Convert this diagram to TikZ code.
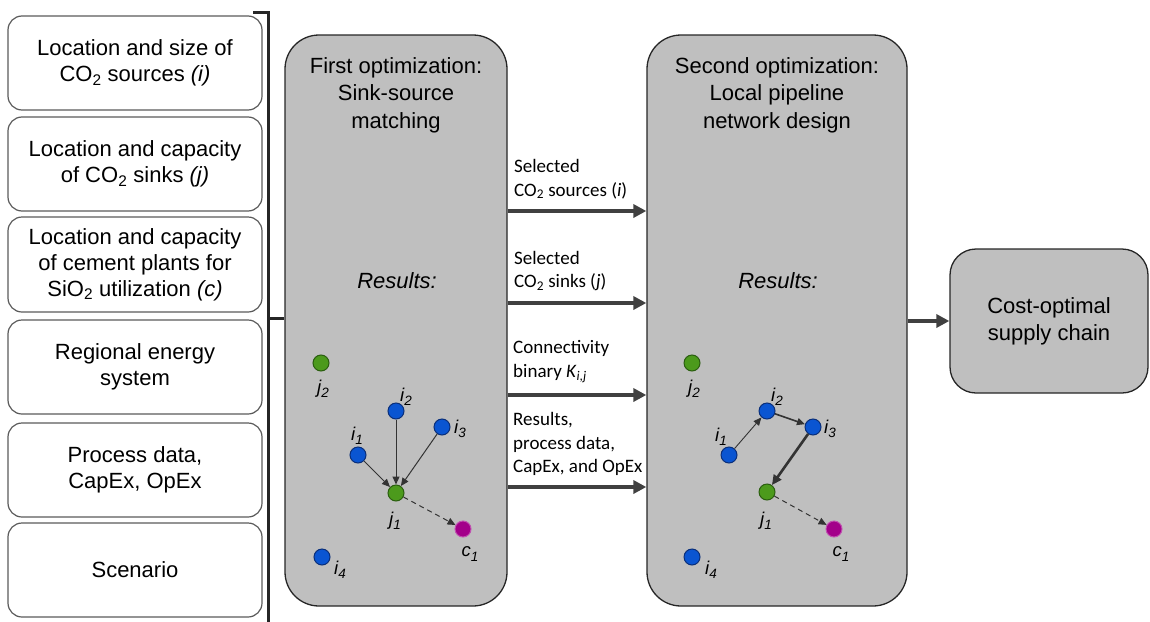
\documentclass[tikz,border=0pt]{standalone}
\usepackage{fontspec}
\setmainfont{Liberation Sans}
\newfontfamily\califont{Carlito}
\usetikzlibrary{arrows.meta}

\definecolor{panelgray}{HTML}{BFBFBF}
\definecolor{edgegray}{HTML}{262626}
\definecolor{linkgray}{HTML}{404040}
\definecolor{boxedge}{HTML}{5A5A5A}
\definecolor{srcblue}{HTML}{0A55D2}
\definecolor{srcblueedge}{HTML}{0A2F7A}
\definecolor{sinkgreen}{HTML}{4C9A1C}
\definecolor{sinkgreenedge}{HTML}{2B5E10}
\definecolor{plantmag}{HTML}{A3008A}
\definecolor{plantmagedge}{HTML}{C050B0}

\newcommand{\cotwo}{CO\textsubscript{2}}
\newcommand{\sitwo}{SiO\textsubscript{2}}
% italic point label with a large, lowered index
\newcommand{\idx}[2]{\textit{#1}\raisebox{-4.5pt}{\fontsize{13.5}{14}\selectfont\itshape #2}}

\tikzset{
  inbox/.style={draw=boxedge, line width=1.2pt, rounded corners=14pt,
    minimum width=254pt, minimum height=94pt, align=center, inner sep=0pt,
    font=\fontsize{22}{26}\selectfont},
  panel/.style={draw=edgegray, fill=panelgray, line width=1.3pt, rounded corners=34pt},
  paneltitle/.style={align=center, inner sep=0pt, font=\fontsize{22}{27.5}\selectfont},
  resultlabel/.style={inner sep=0pt, font=\itshape\fontsize{22}{26}\selectfont},
  flow/.style={draw=linkgray, line width=4pt, -{Triangle[length=13pt,width=13pt]}},
  flowlabel/.style={anchor=south west, align=left, inner sep=0pt,
    font=\califont\fontsize{19}{23.5}\selectfont},
  bracket/.style={draw=edgegray, line width=3pt},
  dot/.style={circle, inner sep=0pt, minimum size=16pt, line width=1pt},
  src/.style={dot, fill=srcblue, draw=srcblueedge},
  sink/.style={dot, fill=sinkgreen, draw=sinkgreenedge},
  plant/.style={dot, fill=plantmag, draw=plantmagedge},
  dotlabel/.style={inner sep=0pt, font=\itshape\fontsize{18.5}{22}\selectfont},
  link/.style={draw=black!80, line width=1pt, -{Triangle[length=8pt,width=7pt]}},
  dashlink/.style={link, dashed, dash pattern=on 5pt off 4pt},
}

\begin{document}
\begin{tikzpicture}[x=1pt, y=-1pt]
\useasboundingbox (0,0) rectangle (1150,621);

% input data boxes
\node[inbox] (in1) at (135,63)  {Location and size of\\\cotwo{} sources \textit{(i)}};
\node[inbox] (in2) at (135,164) {Location and capacity\\of \cotwo{} sinks \textit{(j)}};
\node[inbox, minimum height=95pt] (in3) at (135,264.5) {Location and capacity\\of cement plants for\\\sitwo{} utilization \textit{(c)}};
\node[inbox] (in4) at (135,367) {Regional energy\\system};
\node[inbox] (in5) at (135,470) {Process data,\\CapEx, OpEx};
\node[inbox] (in6) at (135,570) {Scenario};

% optimisation panels
\node[panel, minimum width=222pt, minimum height=571pt] (g1) at (396,320.5) {};
\node[panel, minimum width=260pt, minimum height=571pt] (g2) at (777,320.5) {};
\node[panel, rounded corners=26pt, minimum width=198pt, minimum height=144pt,
      align=center, font=\fontsize{22}{27}\selectfont] (g3) at (1049,321)
      {Cost-optimal\\supply chain};

\node[paneltitle] (t1) at (396,95) {First optimization:\\Sink-source\\matching};
\node[paneltitle] (t2) at (777,95) {Second optimization:\\Local pipeline\\network design};
\node[resultlabel] (r1) at (397,281) {Results:};
\node[resultlabel] (r2) at (778,281) {Results:};

% bracket collecting the inputs
\coordinate (bkTop) at (253,12);
\coordinate (bkCorner) at (268,12);
\coordinate (bkBottom) at (268,622);
\coordinate (bkMid) at (268,318);
\draw[bracket] (bkTop) -- (bkCorner) -- (bkBottom);
\draw[bracket] (bkMid) -- (g1.west |- bkMid);

% hand-over arrows between the optimisations
\coordinate (f1) at (0,211);
\coordinate (f2) at (0,303);
\coordinate (f3) at (0,395);
\coordinate (f4) at (0,487);
\draw[flow] (g1.east |- f1) -- (g2.west |- f1);
\draw[flow] (g1.east |- f2) -- (g2.west |- f2);
\draw[flow] (g1.east |- f3) -- (g2.west |- f3);
\draw[flow] (g1.east |- f4) -- (g2.west |- f4);
\draw[flow] (g2.east |- g3.west) -- (g3.west);

\node[flowlabel] (l1) at (514,199) {Selected\\\cotwo{} sources (\textit{i})};
\node[flowlabel] (l2) at (514,291) {Selected\\\cotwo{} sinks (\textit{j})};
\node[flowlabel] (l3) at (513,383) {Connectivity\\binary \textit{K}\textsubscript{\textit{i,j}}};
\node[flowlabel] (l4) at (513,476) {Results,\\process data,\\CapEx, and OpEx};

% first optimisation result
\node[sink]  (aj2) at (321,363) {};
\node[src]   (ai2) at (396,411) {};
\node[src]   (ai3) at (442,427) {};
\node[src]   (ai1) at (358,455) {};
\node[sink]  (aj1) at (396,493) {};
\node[plant] (ac1) at (463,529) {};
\node[src]   (ai4) at (322,557) {};

\node[dotlabel] (laj2) at (323,389) {\idx{j}{2}};
\node[dotlabel] (lai2) at (406,397) {\idx{i}{2}};
\node[dotlabel] (lai3) at (460,429) {\idx{i}{3}};
\node[dotlabel] (lai1) at (357,436) {\idx{i}{1}};
\node[dotlabel] (laj1) at (395,521) {\idx{j}{1}};
\node[dotlabel] (lac1) at (470,554) {\idx{c}{1}};
\node[dotlabel] (lai4) at (340,570) {\idx{i}{4}};

\draw[link] (ai1) -- (aj1);
\draw[link] (ai2) -- (aj1);
\draw[link] (ai3) -- (aj1);
\draw[dashlink] (aj1) -- (ac1);

% second optimisation result
\node[sink]  (bj2) at (692,363) {};
\node[src]   (bi2) at (767,411) {};
\node[src]   (bi3) at (813,427) {};
\node[src]   (bi1) at (729,455) {};
\node[sink]  (bj1) at (767,492) {};
\node[plant] (bc1) at (834,529) {};
\node[src]   (bi4) at (692,557) {};

\node[dotlabel] (lbj2) at (694,389) {\idx{j}{2}};
\node[dotlabel] (lbi2) at (777,397) {\idx{i}{2}};
\node[dotlabel] (lbi3) at (830,429) {\idx{i}{3}};
\node[dotlabel] (lbi1) at (721,437) {\idx{i}{1}};
\node[dotlabel] (lbj1) at (766,521) {\idx{j}{1}};
\node[dotlabel] (lbc1) at (841,554) {\idx{c}{1}};
\node[dotlabel] (lbi4) at (711,570) {\idx{i}{4}};

\draw[link, line width=0.9pt] (bi1) -- (bi2);
\draw[link, line width=1.6pt] (bi2) -- (bi3);
\draw[link, line width=2.6pt, -{Triangle[length=10pt,width=9pt]}] (bi3) -- (bj1);
\draw[dashlink] (bj1) -- (bc1);
\end{tikzpicture}
\end{document}
